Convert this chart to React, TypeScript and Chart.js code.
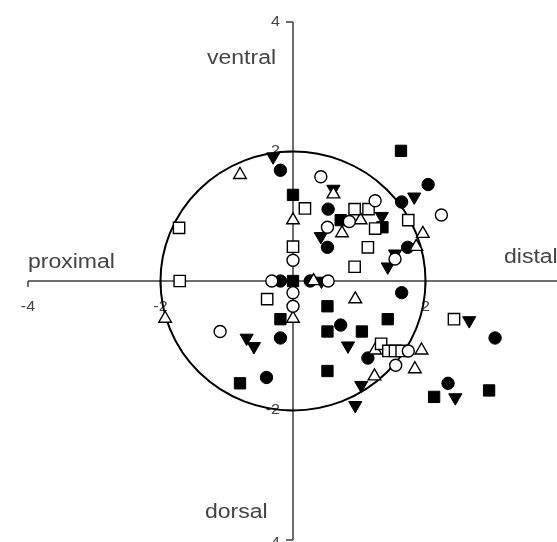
import React, { useEffect, useRef } from "react";
import { Chart, registerables } from "chart.js";

Chart.register(...registerables);

// Axis range and labels
const axisMin = -4;
const axisMax = 4;
const circleRadius = 2;
const xTickValues = [-4, -2, 2];
const xTickLabels = ["-4", "-2", "2"];
const yTickValues = [4, 2, -2, -4];
const yTickLabels = ["4", "2", "-2", "-4"];
const directionLabels = ["ventral", "dorsal", "proximal", "distal"];

// Series: [x, y]
const filledCircles: number[][] = [
  [-0.19, 1.71], [-0.19, 0], [0.26, 0], [2.04, 1.49], [1.64, 1.22], [0.53, 1.11],
  [0.52, 0.52], [1.73, 0.52], [1.64, -0.18], [-0.19, -0.88], [-0.4, -1.49],
  [0.72, -0.68], [3.05, -0.88], [1.13, -1.19], [2.34, -1.58],
];
const openCircles: number[][] = [
  [0.42, 1.61], [1.24, 1.24], [2.24, 1.02], [0.85, 0.92], [0.52, 0.83], [1.54, 0.34],
  [0, 0.32], [-0.32, 0], [0.53, 0], [0, -0.18], [0, -0.39], [-1.1, -0.78],
  [1.74, -1.08], [1.55, -1.3],
];
const filledSquares: number[][] = [
  [1.63, 2.01], [0, 1.33], [0.72, 0.94], [1.35, 0.83], [0, 0], [0.52, -0.39],
  [-0.19, -0.59], [1.43, -0.59], [0.52, -0.78], [1.04, -0.78], [0.52, -1.39],
  [-0.8, -1.58], [2.13, -1.79], [2.96, -1.69],
];
const openSquares: number[][] = [
  [0.18, 1.12], [-1.72, 0.82], [0.93, 1.11], [1.14, 1.11], [1.74, 0.94], [1.24, 0.81],
  [0, 0.53], [1.13, 0.52], [0.93, 0.22], [-1.71, 0], [-0.39, -0.28], [2.43, -0.59],
  [1.33, -0.97], [1.44, -1.08], [1.54, -1.08], [1.64, -1.08],
];
const downTriangles: number[][] = [
  [-0.3, 1.92], [0.61, 1.42], [1.83, 1.3], [1.34, 1.0], [0.42, 0.69], [1.54, 0.42],
  [1.43, 0.22], [0.43, 0], [-0.7, -0.88], [-0.59, -1.01], [2.66, -0.61],
  [0.83, -1.0], [1.03, -1.61], [2.45, -1.8], [0.94, -1.92],
];
const upTriangles: number[][] = [
  [-0.8, 1.64], [0, 0.94], [0.61, 1.34], [1.02, 0.94], [0.74, 0.74], [1.96, 0.73],
  [1.86, 0.53], [0.31, 0], [-1.93, -0.58], [0, -0.58], [0.94, -0.28], [1.24, -1.07],
  [1.94, -1.07], [1.84, -1.36], [1.23, -1.47],
];

const toPts = (arr: number[][]) => arr.map(([x, y]) => ({ x, y }));

const TEXT_COLOR = "#444";
const AXIS_COLOR = "#3c3c3c";
const STRETCH = 1.15;

function drawText(ctx: CanvasRenderingContext2D, text: string, x: number, y: number, size: number, align: CanvasTextAlign) {
  ctx.save();
  ctx.translate(x, y);
  ctx.scale(STRETCH, 1);
  ctx.font = `${size}px "Liberation Sans", Arial, sans-serif`;
  ctx.fillStyle = TEXT_COLOR;
  ctx.textAlign = align;
  ctx.textBaseline = "middle";
  ctx.fillText(text, 0, 0);
  ctx.restore();
}

const axesPlugin = {
  id: "crossAxes",
  beforeDatasetsDraw(chart: any) {
    const ctx: CanvasRenderingContext2D = chart.ctx;
    const xs = chart.scales.x;
    const ys = chart.scales.y;
    const x0 = xs.getPixelForValue(0);
    const y0 = ys.getPixelForValue(0);
    ctx.save();
    ctx.strokeStyle = AXIS_COLOR;
    ctx.lineWidth = 1.5;
    // x axis
    ctx.beginPath();
    ctx.moveTo(xs.getPixelForValue(axisMin), y0);
    ctx.lineTo(xs.getPixelForValue(axisMax) + 2, y0);
    ctx.stroke();
    // y axis
    ctx.beginPath();
    ctx.moveTo(x0, ys.getPixelForValue(axisMax));
    ctx.lineTo(x0, ys.getPixelForValue(axisMin));
    ctx.stroke();
    // x ticks (downward)
    xTickValues.forEach((v, i) => {
      const px = xs.getPixelForValue(v);
      ctx.beginPath();
      ctx.moveTo(px, y0);
      ctx.lineTo(px, y0 + 6);
      ctx.stroke();
      drawText(ctx, xTickLabels[i], px, y0 + 26, 14, "center");
    });
    // y ticks (leftward)
    yTickValues.forEach((v, i) => {
      const py = ys.getPixelForValue(v);
      ctx.beginPath();
      ctx.moveTo(x0, py);
      ctx.lineTo(x0 - 7, py);
      ctx.stroke();
      drawText(ctx, yTickLabels[i], x0 - 13, py + (v === axisMin ? 3 : 0), 14, "right");
    });
    // reference circle
    const rx = xs.getPixelForValue(circleRadius) - x0;
    const ry = y0 - ys.getPixelForValue(circleRadius);
    ctx.strokeStyle = "#000";
    ctx.lineWidth = 2;
    ctx.beginPath();
    ctx.ellipse(x0, y0, rx, ry, 0, 0, Math.PI * 2);
    ctx.stroke();
    // direction labels
    drawText(ctx, directionLabels[0], x0 - 86, 58, 20, "left");
    drawText(ctx, directionLabels[1], x0 - 88, 512, 20, "left");
    drawText(ctx, directionLabels[2], 28, y0 - 19, 20, "left");
    drawText(ctx, directionLabels[3], 504, y0 - 24, 20, "left");
    ctx.restore();
  },
};

const CANVAS_W = 572;
const CANVAS_H = 554;

export default function App() {
  const canvasRef = useRef<HTMLCanvasElement | null>(null);

  useEffect(() => {
    const canvas = canvasRef.current;
    if (!canvas) return;
    const filled = { backgroundColor: "#000", borderColor: "#000", borderWidth: 1 };
    const open = { backgroundColor: "#fff", borderColor: "#000", borderWidth: 1.4 };
    const chart = new Chart(canvas, {
      type: "scatter",
      data: {
        datasets: [
          { label: "open circles", data: toPts(openCircles), pointStyle: "circle", pointRadius: 6, ...open },
          { label: "open squares", data: toPts(openSquares), pointStyle: "rect", pointRadius: 8, ...open },
          { label: "open triangles", data: toPts(upTriangles), pointStyle: "triangle", pointRadius: 7.3, ...open },
          { label: "filled circles", data: toPts(filledCircles), pointStyle: "circle", pointRadius: 6.2, ...filled },
          { label: "filled squares", data: toPts(filledSquares), pointStyle: "rect", pointRadius: 8, ...filled },
          { label: "filled triangles", data: toPts(downTriangles), pointStyle: "triangle", pointRotation: 180, pointRadius: 7.6, ...filled },
        ] as any,
      },
      options: {
        animation: false,
        responsive: false,
        devicePixelRatio: 1,
        layout: { padding: { left: 28, right: CANVAS_W - 558, top: 22, bottom: CANVAS_H - 540 } },
        plugins: { legend: { display: false }, tooltip: { enabled: false } },
        elements: { point: { hoverRadius: 6 } },
        scales: {
          x: { type: "linear", min: axisMin, max: axisMax, display: false },
          y: { type: "linear", min: axisMin, max: axisMax, display: false },
        },
        datasets: { scatter: { clip: false } } as any,
      } as any,
      plugins: [axesPlugin],
    });
    return () => chart.destroy();
  }, []);

  return (
    <div style={{ position: "absolute", left: 0, top: 0, width: 557, height: 542, overflow: "hidden", background: "#fff" }}>
      <canvas ref={canvasRef} width={CANVAS_W} height={CANVAS_H} style={{ display: "block", width: CANVAS_W, height: CANVAS_H }} />
    </div>
  );
}
